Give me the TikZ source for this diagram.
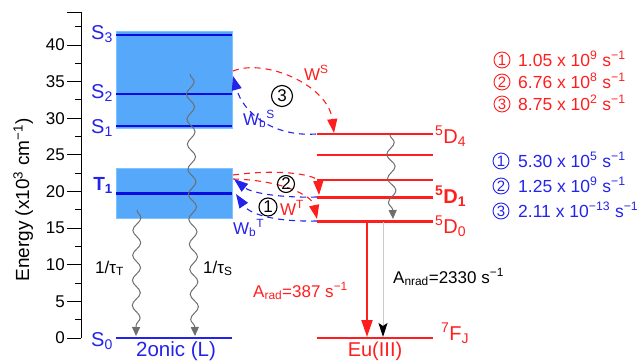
\documentclass[tikz,border=0pt]{standalone}
\usepackage{fontspec}
\setmainfont{Liberation Sans}
\usetikzlibrary{arrows.meta,decorations.pathmorphing}
\definecolor{boxblue}{RGB}{85,168,250}
\definecolor{boxedge}{RGB}{125,195,255}
\definecolor{lvblue}{RGB}{10,10,225}
\definecolor{tblue}{RGB}{35,35,235}
\definecolor{tred}{RGB}{255,30,30}
\definecolor{wgray}{RGB}{110,110,110}
\newcommand{\sinv}{\textsuperscript{−1}}
\newcommand{\fsz}[1]{\fontsize{#1}{#1}\selectfont}
\begin{document}
\begin{tikzpicture}[x=1pt,y=-1pt,
  lab/.style={font=\fsz{20}, inner sep=0pt},
  ticklab/.style={font=\fsz{17}, anchor=east, inner sep=0pt},
  rate/.style={font=\fsz{17.5}, anchor=base west, inner sep=0pt},
  wlab/.style={font=\fsz{17}, anchor=base west, inner sep=0pt},
  cnum/.style={circle, draw, line width=0.9pt, inner sep=0pt, minimum size=16pt, font=\fsz{15}},
  bignum/.style={circle, draw=black, line width=1.1pt, inner sep=0pt, font=\fsz{17}},
  wave/.style={wgray, line width=1pt, decorate, decoration={snake, amplitude=4pt, segment length=25pt, post length=7pt}, -{Triangle[length=9pt,width=8pt]}},
  rdash/.style={tred, line width=1.1pt, dash pattern=on 6pt off 5pt, -{Triangle[length=14pt,width=10pt]}},
  bdash/.style={tblue, line width=1.1pt, dash pattern=on 6pt off 5pt, -{Triangle[length=14pt,width=10pt]}},
]
\useasboundingbox (0,0) rectangle (638,362);

% axis
\draw[line width=1pt] (81,12) -- (81,338);
\draw[line width=1pt] (67,12) -- (81,12);
\foreach \v in {0,5,...,40} {
  \draw[line width=1pt] (67,{338-7.325*\v}) -- (81,{338-7.325*\v});
  \node[ticklab] (tk\v) at (65,{338-7.325*\v}) {\v};
}
\foreach \v in {2.5,7.5,...,42.5} {
  \draw[line width=1pt] (75,{338-7.325*\v}) -- (81,{338-7.325*\v});
}
\node[font=\fsz{19}, rotate=90, anchor=base, inner sep=0pt] (ylab) at (29,200) {Energy (x10\textsuperscript{3} cm\sinv)};

% ligand boxes
\filldraw[fill=boxblue, draw=boxedge, line width=0.8pt] (116,31) rectangle (232,128);
\filldraw[fill=boxblue, draw=boxedge, line width=0.8pt] (116,168) rectangle (232,218);

% ligand levels
\draw[lvblue, line width=1.8pt] (116,35) -- (232,35);
\draw[lvblue, line width=1.8pt] (116,94) -- (232,94);
\draw[lvblue, line width=2.2pt] (116,126) -- (232,126);
\draw[lvblue, line width=3pt] (116,193) -- (232,193);
\draw[tblue, line width=1.8pt] (116,338) -- (232,338);

\node[lab, tblue, anchor=base east] (S3) at (113,39) {S\textsubscript{3}};
\node[lab, tblue, anchor=base east] (S2) at (113,98) {S\textsubscript{2}};
\node[lab, tblue, anchor=base east] (S1) at (113,133) {S\textsubscript{1}};
\node[lab, tblue, anchor=base east, font=\fsz{19}\bfseries] (T1) at (113,190) {T\textsubscript{1}};
\node[lab, tblue, anchor=base east] (S0) at (113,346) {S\textsubscript{0}};
\node[lab, tblue, font=\fsz{20.5}] (lig) at (176,351) {2onic (L)};

% Eu levels
\draw[tred, line width=2pt] (317,134) -- (433,134);
\draw[tred, line width=1.5pt] (317,155) -- (433,155);
\draw[tred, line width=1.5pt] (317,180) -- (433,180);
\draw[tred, line width=3pt] (317,197) -- (433,197);
\draw[tred, line width=3pt] (317,221) -- (433,221);
\draw[tred, line width=2pt] (317,338) -- (433,338);

\node[lab, tred, anchor=base west] (D4) at (435,143) {\textsuperscript{5}D\textsubscript{4}};
\node[lab, tred, anchor=base west, font=\fsz{20}\bfseries] (D1) at (435,203) {\textsuperscript{5}D\textsubscript{1}};
\node[lab, tred, anchor=base west] (D0) at (435,233) {\textsuperscript{5}D\textsubscript{0}};
\node[lab, tred, anchor=base west] (FJ) at (441,340) {\textsuperscript{7}F\textsubscript{J}};
\node[lab, tred] (eu) at (375,351) {Eu(III)};

% coordinates
\coordinate (wS1) at (190,74);
\coordinate (wS0) at (195,336);
\coordinate (wT1) at (137,210);
\coordinate (wT0) at (136,336);
\coordinate (wE1) at (390,135);
\coordinate (wE0) at (393,219);
\coordinate (Ltop) at (233,71);
\coordinate (Lret) at (233,76);
\coordinate (D4a) at (334,133);
\coordinate (D4L) at (316,134);
\coordinate (Ta) at (233,175);
\coordinate (Tb) at (233,179);
\coordinate (Tc) at (234,179);
\coordinate (Td) at (236,194);
\coordinate (D1a) at (319,195);
\coordinate (D0a) at (317,219);
\coordinate (D1L) at (317,197);
\coordinate (D0L) at (317,221);
\coordinate (ArT) at (367,222);
\coordinate (ArB) at (367,337);
\coordinate (AnT) at (383,222);
\coordinate (AnB) at (383,337);

% wavy decays
\draw[wave] (wS1) -- (wS0);
\draw[wave] (wT1) -- (wT0);
\draw[wave, decoration={snake, amplitude=4pt, segment length=24pt, post length=7pt}] (wE1) -- (wE0);
\node[wlab] (tauT) at (95,273) {1/τ\textsubscript{T}};
\node[wlab] (tauS) at (203,273) {1/τ\textsubscript{S}};

% radiative
\draw[tred, line width=2pt, -{Triangle[length=17pt,width=11pt]}] (ArT) -- (ArB);
\draw[black!20, line width=1pt, -{Stealth[length=14pt,width=9pt,inset=3pt,color=black]}] (AnT) -- (AnB);
\node[wlab, tred] (Arad) at (253,297) {A\textsubscript{rad}=387 s\sinv};
\node[wlab] (Anrad) at (393,283) {A\textsubscript{nrad}=2330 s\sinv};

% energy transfer
\draw[rdash] (Ltop) .. controls (265,58) and (328,85) .. (D4a);
\draw[bdash] (D4L) .. controls (272,137) and (243,112) .. (Lret);
\draw[rdash] (Ta) .. controls (285,168) and (318,176) .. (D1a);
\draw[rdash] (Tb) .. controls (280,180) and (312,195) .. (D0a);
\draw[bdash] (D1L) .. controls (275,198) and (250,192) .. (Tc);
\draw[bdash] (D0L) .. controls (268,222) and (248,212) .. (Td);

\node[wlab, tred] (WS) at (304,80) {W\textsuperscript{S}};
\node[wlab, tblue] (WbS) at (243,125) {W\textsubscript{b}\textsuperscript{S}};
\node[wlab, tred] (WT) at (280,215) {W\textsuperscript{T}};
\node[wlab, tblue] (WbT) at (233,234) {W\textsubscript{b}\textsuperscript{T}};

\node[bignum, minimum size=21pt] (c3) at (282,96) {3};
\node[bignum, minimum size=17pt] (c2) at (286,184) {2};
\node[bignum, minimum size=18pt] (c1) at (268,207) {1};

% rates
\node[cnum, tred] (r1c) at (502,60) {1};
\node[rate, tred] (r1) at (518,66) {1.05 x 10\textsuperscript{9} s\sinv};
\node[cnum, tred] (r2c) at (502,82) {2};
\node[rate, tred] (r2) at (518,88) {6.76 x 10\textsuperscript{8} s\sinv};
\node[cnum, tred] (r3c) at (502,104) {3};
\node[rate, tred] (r3) at (518,110) {8.75 x 10\textsuperscript{2} s\sinv};

\node[cnum, tblue] (b1c) at (501,161) {1};
\node[rate, tblue] (b1) at (518,167) {5.30 x 10\textsuperscript{5} s\sinv};
\node[cnum, tblue] (b2c) at (501,186) {2};
\node[rate, tblue] (b2) at (518,192) {1.25 x 10\textsuperscript{9} s\sinv};
\node[cnum, tblue] (b3c) at (501,211) {3};
\node[rate, tblue] (b3) at (518,217) {2.11 x 10\textsuperscript{−13} s\sinv};
\end{tikzpicture}
\end{document}
